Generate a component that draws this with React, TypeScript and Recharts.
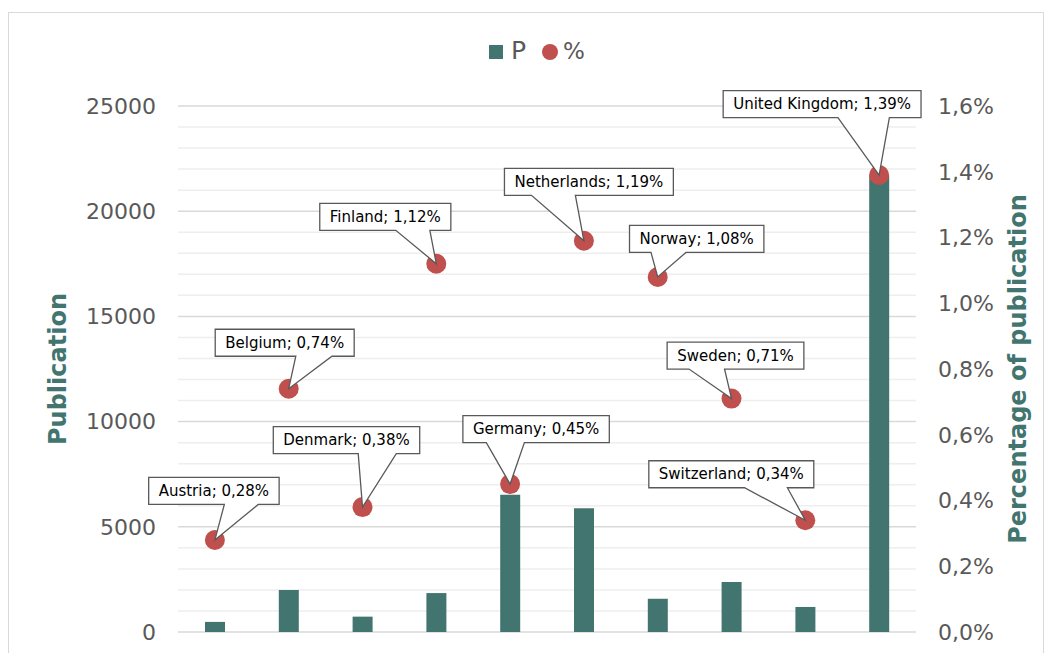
import React from "react";
import { Bar, CartesianGrid, ComposedChart, LabelList, Line, XAxis, YAxis } from "recharts";

const countries = [
  "Austria",
  "Belgium",
  "Denmark",
  "Finland",
  "Germany",
  "Netherlands",
  "Norway",
  "Sweden",
  "Switzerland",
  "United Kingdom",
];
const publications = [480, 2000, 730, 1850, 6520, 5880, 1580, 2380, 1190, 21700];
const percentages = [0.28, 0.74, 0.38, 1.12, 0.45, 1.19, 1.08, 0.71, 0.34, 1.39];

const leftTicks = [0, 5000, 10000, 15000, 20000, 25000];
const minorGrid = [
  1000, 2000, 3000, 4000, 6000, 7000, 8000, 9000, 11000, 12000, 13000, 14000, 16000, 17000, 18000, 19000, 21000,
  22000, 23000, 24000,
];
const rightTicks = [0, 0.2, 0.4, 0.6, 0.8, 1.0, 1.2, 1.4, 1.6];

// where each callout box sits, relative to its dot
const calloutOffsets: [number, number][] = [
  [-1, -49],
  [-4, -46],
  [-16, -67],
  [-51, -47],
  [26, -55],
  [5, -59],
  [39, -38],
  [4, -43],
  [-74, -46],
  [-57, -71],
];

const data = countries.map((country, i) => ({
  country,
  pub: publications[i],
  pct: percentages[i],
}));

const TEAL = "#42756F";
const RED = "#C0504D";
const TICK = "#595959";
const FONT = "'DejaVu Sans', Verdana, sans-serif";
const LABEL_FONT_SIZE = 15;

const fmtPct = (v: number, digits: number) => v.toFixed(digits).replace(".", ",") + "%";

let measureCtx: CanvasRenderingContext2D | null = null;
function textWidth(text: string) {
  if (!measureCtx && typeof document !== "undefined") {
    measureCtx = document.createElement("canvas").getContext("2d");
  }
  if (measureCtx) {
    measureCtx.font = `${LABEL_FONT_SIZE}px 'DejaVu Sans'`;
    return measureCtx.measureText(text).width;
  }
  return text.length * 8;
}

function Callout(props: any) {
  const { x, y, index } = props;
  if (x == null || y == null) return null;
  const text = `${countries[index]}; ${fmtPct(percentages[index], 2)}`;
  const [dx, dy] = calloutOffsets[index];
  const w = textWidth(text) + 20;
  const h = 27;
  const cx = x + dx;
  const cy = y + dy;
  const L = cx - w / 2;
  const R = cx + w / 2;
  const T = cy - h / 2;
  const B = cy + h / 2;
  const s = x >= cx ? 1 : -1;
  const a = cx + s * 0.08 * w;
  const b = cx + s * 0.34 * w;
  const b1 = Math.max(a, b);
  const b2 = Math.min(a, b);
  const d = `M${L},${T} H${R} V${B} H${b1} L${x},${y} L${b2},${B} H${L} Z`;
  return (
    <g>
      <path d={d} fill="#fff" stroke="#595959" strokeWidth={1.3} />
      <text x={cx} y={cy + 5} textAnchor="middle" fontSize={LABEL_FONT_SIZE} fontFamily={FONT} fill="#000">
        {text}
      </text>
    </g>
  );
}

function AxisTitle(props: any) {
  const { viewBox, value, side } = props;
  const vb = viewBox || {};
  const x = side === "left" ? (vb.x ?? 0) + 58 : (vb.x ?? 916) + 102;
  const y = (vb.y ?? 106) + (vb.height ?? 526) / 2;
  return (
    <text
      x={x}
      y={y}
      transform={`rotate(-90, ${x}, ${y})`}
      textAnchor="middle"
      dominantBaseline="central"
      fontSize={24}
      fontWeight="bold"
      fontFamily={FONT}
      fill={TEAL}
    >
      {value}
    </text>
  );
}

const minorLines = ({ yAxis, offset }: any) =>
  minorGrid.map((v) =>
    yAxis && typeof yAxis.scale === "function" ? yAxis.scale(v) : offset.top + offset.height * (1 - v / 25000)
  );

export default function App() {
  return (
    <div style={{ position: "absolute", left: 0, top: 0, width: 1051, height: 653, background: "#fff", overflow: "hidden" }}>
      <div
        style={{
          position: "absolute",
          left: 8,
          top: 12,
          width: 1036,
          height: 680,
          border: "1px solid #d9d9d9",
          boxSizing: "border-box",
        }}
      />
      <div style={{ position: "absolute", top: 0, left: 0, fontFamily: FONT, fontSize: 25, color: TICK }}>
        <span style={{ position: "absolute", left: 489, top: 45, width: 14, height: 14, background: TEAL }} />
        <span style={{ position: "absolute", left: 511, top: 36, lineHeight: "30px" }}>P</span>
        <span style={{ position: "absolute", left: 542, top: 44, width: 16, height: 16, borderRadius: 8, background: RED }} />
        <span style={{ position: "absolute", left: 563, top: 36, lineHeight: "30px", fontSize: 23 }}>%</span>
      </div>
      <ComposedChart
        width={1051}
        height={653}
        data={data}
        margin={{ top: 106, right: 0, bottom: 21, left: 0 }}
        style={{ position: "absolute", left: 0, top: 0 }}
      >
        <XAxis dataKey="country" hide />
        <YAxis
          yAxisId="left"
          orientation="left"
          width={178}
          domain={[0, 25000]}
          ticks={leftTicks}
          interval={0}
          tickLine={false}
          axisLine={false}
          tickSize={0}
          tickMargin={22}
          tick={{ fill: TICK, fontSize: 22, fontFamily: FONT }}
          label={<AxisTitle value="Publication" side="left" />}
        />
        <YAxis
          yAxisId="right"
          orientation="right"
          width={135}
          domain={[0, 1.6]}
          ticks={rightTicks}
          interval={0}
          tickLine={false}
          axisLine={false}
          tickSize={0}
          tickMargin={22}
          tickFormatter={(v: number) => fmtPct(v, 1)}
          tick={{ fill: TICK, fontSize: 22, fontFamily: FONT }}
          label={<AxisTitle value="Percentage of publication" side="right" />}
        />
        <CartesianGrid
          yAxisId="left"
          vertical={false}
          stroke="#eeeeee"
          strokeWidth={1.5}
          horizontalCoordinatesGenerator={minorLines}
        />
        <CartesianGrid yAxisId="left" vertical={false} stroke="#d9d9d9" strokeWidth={1.5} />
        <Bar yAxisId="left" dataKey="pub" name="P" fill={TEAL} barSize={20} isAnimationActive={false} />
        <Line
          yAxisId="right"
          dataKey="pct"
          name="%"
          stroke="none"
          dot={{ r: 10, fill: RED, stroke: "none" }}
          activeDot={false}
          isAnimationActive={false}
        >
          <LabelList dataKey="pct" content={(p: any) => <Callout {...p} />} />
        </Line>
      </ComposedChart>
    </div>
  );
}
